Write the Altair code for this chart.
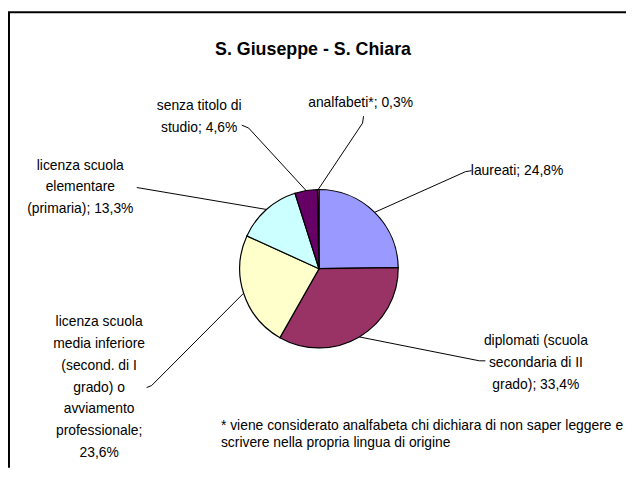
import math
import altair as alt
import pandas as pd

# ---------------- data ----------------
categories = [
    "laureati",
    "diplomati (scuola secondaria di II grado)",
    "licenza scuola media inferiore (second. di I grado) o avviamento professionale",
    "licenza scuola elementare (primaria)",
    "senza titolo di studio",
    "analfabeti*",
]
values = [24.8, 33.4, 23.6, 13.3, 4.6, 0.3]
# wrapped label text, "{v}" is replaced by the value
label_templates = [
    ["laureati; {v}"],
    ["diplomati (scuola", "secondaria di II", "grado); {v}"],
    ["licenza scuola", "media inferiore", "(second. di I", "grado) o", "avviamento", "professionale;", "{v}"],
    ["licenza scuola", "elementare", "(primaria); {v}"],
    ["senza titolo di", "studio; {v}"],
    ["analfabeti*; {v}"],
]
title_text = "S. Giuseppe - S. Chiara"
footnote_lines = [
    "* viene considerato analfabeta chi dichiara di non saper leggere e",
    "scrivere nella propria lingua di origine",
]

# ---------------- style / layout ----------------
colors = ["#9999FF", "#993366", "#FFFFCC", "#CCFFFF", "#660066", "#FF8080"]
W, H = 624, 462
CX, CY, R = 314, 261, 80
LABEL_FONT = "Liberation Sans, Arial, sans-serif"
LABEL_SIZE = 14
LINE_STEP = 22
# label anchor: centre x, first line y (chart pixels)
label_pos = [(514, 162), (533, 334), (92, 315), (73, 157), (193, 97), (356, 94)]
# outer points of leader lines (chart pixels), ordered from label toward pie
leader_outer = [
    [(468, 162), (462, 163)],
    [(482, 354), (476, 354)],
    [(140, 381), (145, 379)],
    [(130, 179)],
    [(236, 116), (243, 119)],
    [(359, 107), (358, 114)],
]


def fmt(v):
    return f"{v:.1f}".replace(".", ",") + "%"


# pie table
pie_df = pd.DataFrame({"cat": categories, "value": values, "idx": list(range(len(values)))})

# labels table
rows = []
for i, tmpl in enumerate(label_templates):
    x0, y0 = label_pos[i]
    for j, line in enumerate(tmpl):
        rows.append({"x": x0, "y": y0 + j * LINE_STEP, "text": line.replace("{v}", fmt(values[i]))})
lab_df = pd.DataFrame(rows)

# leader lines table: inner point at pie edge, mid angle of the slice
total = sum(values)
cum = 0.0
lrows = []
for i, v in enumerate(values):
    mid = (cum + v / 2) / total * 2 * math.pi
    cum += v
    pts = list(leader_outer[i]) + [(CX + R * math.sin(mid), CY - R * math.cos(mid))]
    for k, (px, py) in enumerate(pts):
        lrows.append({"id": i, "k": k, "x": px, "y": py})
lead_df = pd.DataFrame(lrows)

foot_df = pd.DataFrame({"x": [215, 215], "y": [420, 437], "text": footnote_lines})
title_df = pd.DataFrame({"x": [308], "y": [40], "text": [title_text]})

X = lambda f: alt.X(f, scale=None, axis=None)
Y = lambda f: alt.Y(f, scale=None, axis=None)

pie = alt.Chart(pie_df).mark_arc(radius=R, stroke="black", strokeWidth=1.2).encode(
    theta=alt.Theta("value:Q", stack=True),
    color=alt.Color("cat:N", scale=alt.Scale(domain=categories, range=colors), legend=None),
    order=alt.Order("idx:Q"),
    x=alt.value(CX),
    y=alt.value(CY),
)

leaders = alt.Chart(lead_df).mark_line(color="black", strokeWidth=1).encode(
    x=X("x:Q"), y=Y("y:Q"), detail="id:N", order="k:Q"
)

labels = alt.Chart(lab_df).mark_text(
    font=LABEL_FONT, fontSize=LABEL_SIZE, align="center", baseline="middle", color="black"
).encode(x=X("x:Q"), y=Y("y:Q"), text="text:N")

foot = alt.Chart(foot_df).mark_text(
    font=LABEL_FONT, fontSize=LABEL_SIZE, align="left", baseline="middle", color="black"
).encode(x=X("x:Q"), y=Y("y:Q"), text="text:N")

title = alt.Chart(title_df).mark_text(
    font="Liberation Sans, Arial, sans-serif", fontSize=18, fontWeight="bold",
    align="center", baseline="middle", color="black"
).encode(x=X("x:Q"), y=Y("y:Q"), text="text:N")

frame_top = alt.Chart(title_df).mark_rule(color="black", strokeWidth=2).encode(
    x=alt.value(0), x2=alt.value(W), y=alt.value(2), y2=alt.value(2)
)
frame_left = alt.Chart(title_df).mark_rule(color="black", strokeWidth=2).encode(
    x=alt.value(1), x2=alt.value(1), y=alt.value(2), y2=alt.value(H)
)

chart = alt.layer(frame_top, frame_left, leaders, pie, labels, foot, title).properties(
    width=W, height=H, padding=0, autosize=alt.AutoSizeParams(type="none")
).configure_view(stroke=None)

chart.save("out.html", embed_options={"renderer": "svg", "actions": False})
